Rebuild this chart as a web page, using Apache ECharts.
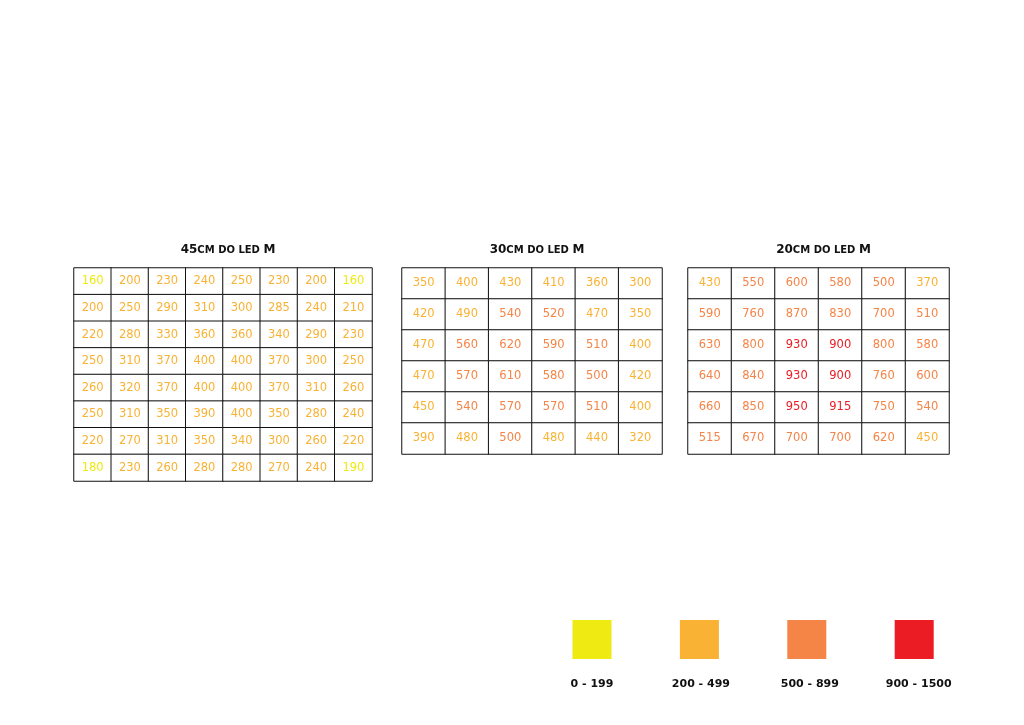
<!DOCTYPE html>
<html><head><meta charset="utf-8">
<script src="https://cdn.jsdelivr.net/npm/echarts@6/dist/echarts.min.js"></script>
<style>html,body{margin:0;padding:0;background:#fff}#c{width:1024px;height:725px}</style>
</head><body><div id="c"></div>
<script>
const titles45 = ['45', 'CM DO LED ', 'M'];
const titles30 = ['30', 'CM DO LED ', 'M'];
const titles20 = ['20', 'CM DO LED ', 'M'];

const grid45 = [
  [160,200,230,240,250,230,200,160],
  [200,250,290,310,300,285,240,210],
  [220,280,330,360,360,340,290,230],
  [250,310,370,400,400,370,300,250],
  [260,320,370,400,400,370,310,260],
  [250,310,350,390,400,350,280,240],
  [220,270,310,350,340,300,260,220],
  [180,230,260,280,280,270,240,190]
];
const grid30 = [
  [350,400,430,410,360,300],
  [420,490,540,520,470,350],
  [470,560,620,590,510,400],
  [470,570,610,580,500,420],
  [450,540,570,570,510,400],
  [390,480,500,480,440,320]
];
const grid20 = [
  [430,550,600,580,500,370],
  [590,760,870,830,700,510],
  [630,800,930,900,800,580],
  [640,840,930,900,760,600],
  [660,850,950,915,750,540],
  [515,670,700,700,620,450]
];

const rangeLabels = ['0 - 199', '200 - 499', '500 - 899', '900 - 1500'];
const rangeMins = [0, 200, 500, 900];
const rangeColors = ['#eeea12', '#f9b233', '#f58447', '#ec1c24'];

function colorFor(v) {
  let c = rangeColors[0];
  for (let i = 0; i < rangeMins.length; i++) if (v >= rangeMins[i]) c = rangeColors[i];
  return c;
}
function toData(rows) {
  const out = [];
  rows.forEach((r, y) => r.forEach((v, x) => out.push({value: [x, y, v], label: {color: colorFor(v)}})));
  return out;
}
function idx(n) { return Array.from({length: n}, (_, i) => String(i)); }

const grids = [
  {left: 74, top: 268, width: 298, height: 213},
  {left: 402, top: 268, width: 260, height: 186},
  {left: 688, top: 268, width: 261, height: 186}
];
const datasets = [grid45, grid30, grid20];
const titleParts = [titles45, titles30, titles20];

const chart = echarts.init(document.getElementById('c'));
const titleRich = {
  big: {fontFamily: 'DejaVu Sans', fontWeight: 'bold', fontSize: 12, color: '#111'},
  small: {fontFamily: 'DejaVu Sans', fontWeight: 'bold', fontSize: 10, color: '#111'}
};

const graphic = [];
rangeLabels.forEach((lab, i) => {
  const cx = 592 + i * 107.4;
  graphic.push({type: 'rect', shape: {x: cx - 19.5, y: 620, width: 39, height: 39}, style: {fill: rangeColors[i]}});
  graphic.push({type: 'text', x: cx + i * 1.5, y: 684, style: {text: lab, fill: '#111', font: 'bold 11px "DejaVu Sans"', align: 'center', verticalAlign: 'middle'}});
});

chart.setOption({
  animation: false,
  backgroundColor: '#fff',
  title: grids.map((g, i) => ({
    text: '{big|' + titleParts[i][0] + '}{small|' + titleParts[i][1] + '}{big|' + titleParts[i][2] + '}',
    left: g.left + g.width / 2,
    top: 239,
    textAlign: 'center',
    textStyle: {rich: titleRich}
  })),
  grid: grids,
  xAxis: datasets.map((d, i) => ({type: 'category', gridIndex: i, data: idx(d[0].length), show: false})),
  yAxis: datasets.map((d, i) => ({type: 'category', gridIndex: i, data: idx(d.length), inverse: true, show: false})),
  series: datasets.map((d, i) => ({
    type: 'heatmap',
    xAxisIndex: i, yAxisIndex: i,
    data: toData(d),
    itemStyle: {color: '#fff', borderColor: '#111', borderWidth: 1},
    label: {show: true, formatter: p => p.value[2], fontFamily: 'DejaVu Sans', fontSize: 11.5},
    emphasis: {disabled: true}
  })),
  graphic: graphic
});
</script></body></html>
